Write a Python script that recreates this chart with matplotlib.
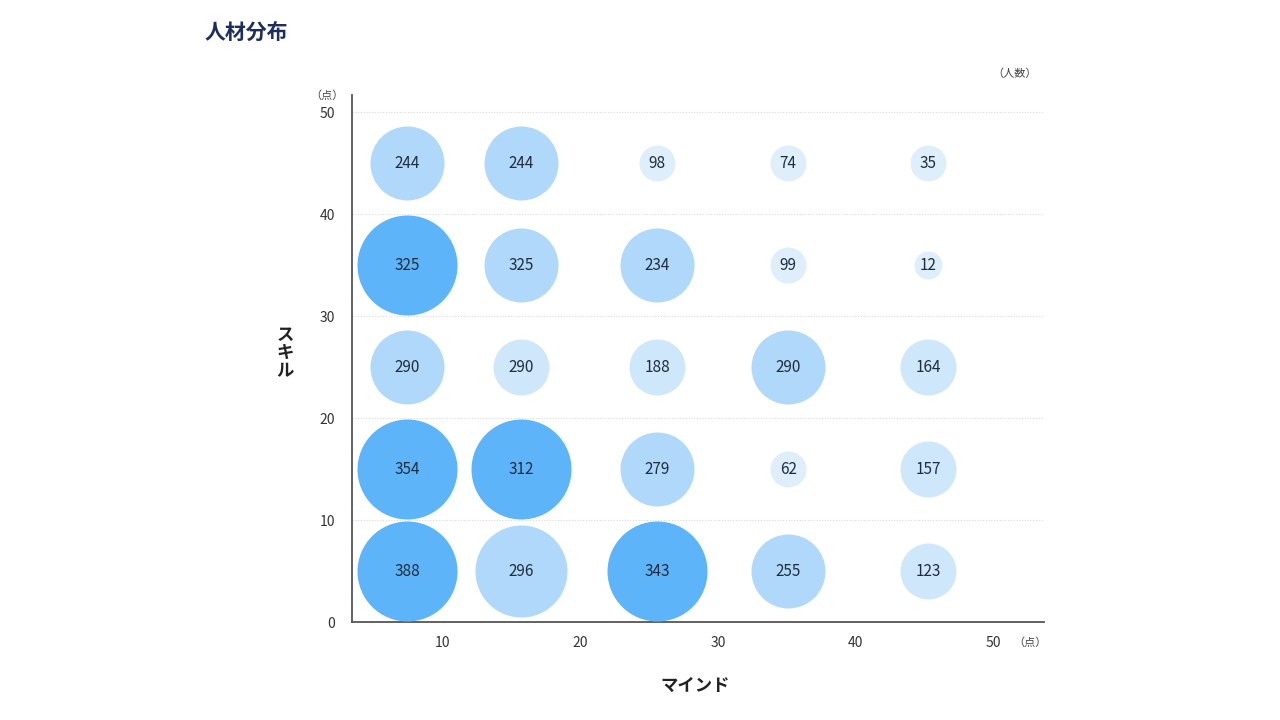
import matplotlib.pyplot as plt

plt.rcParams['font.family'] = ['Noto Sans CJK JP', 'DejaVu Sans']

# bubble grid: mind (x) columns, skill (y) rows
mind = [7.4, 15.7, 25.6, 35.1, 45.3]
skill = [5, 15, 25, 35, 45]

# head counts, one row per skill band (bottom to top)
counts = [
    [388, 296, 343, 255, 123],
    [354, 312, 279, 62, 157],
    [290, 290, 188, 290, 164],
    [325, 325, 234, 99, 12],
    [244, 244, 98, 74, 35],
]

# size class shown in the chart for each bubble
tiers = [
    [1, 2, 1, 3, 4],
    [1, 1, 3, 5, 4],
    [3, 4, 4, 3, 4],
    [1, 3, 3, 5, 6],
    [3, 3, 5, 5, 5],
]

x_ticks = [10, 20, 30, 40, 50]
y_ticks = [0, 10, 20, 30, 40, 50]

# radius in pixels and colour for each tier
tier_style = {
    1: (50, '#5eb4f8'),
    2: (46, '#afd8fa'),
    3: (37, '#afd8fa'),
    4: (28, '#cfe7fb'),
    5: (18, '#dfeefb'),
    6: (14, '#dfeefb'),
}

fig = plt.figure(figsize=(12.8, 7.2), dpi=100)
ax = fig.add_axes([352 / 1280, 1 - 622 / 720, (1044 - 352) / 1280, (622 - 95) / 720])
ax.set_xlim(3.4, 53.7)
ax.set_ylim(0, 51.7)

px_to_pt = 72 / fig.dpi
for i, y in enumerate(skill):
    for j, x in enumerate(mind):
        r, col = tier_style[tiers[i][j]]
        ax.scatter(x, y, s=(2 * r * px_to_pt) ** 2, color=col, linewidths=0, zorder=3)
        ax.text(x, y, str(counts[i][j]), ha='center', va='center',
                fontsize=11, color='#1f2d3d', zorder=4)

for y in y_ticks[1:]:
    ax.axhline(y, color='#d9d9d9', linestyle=(0, (1, 1.5)), linewidth=0.8, zorder=1)

for side in ['top', 'right']:
    ax.spines[side].set_visible(False)
for side in ['left', 'bottom']:
    ax.spines[side].set_color('#555555')
    ax.spines[side].set_linewidth(1.3)

ax.set_xticks(x_ticks)
ax.set_yticks(y_ticks)
ax.tick_params(axis='both', length=0, labelsize=10, colors='#333333')
ax.tick_params(axis='x', pad=10)
ax.tick_params(axis='y', pad=12)

fig.text(205 / 1280, 1 - 32 / 720, '人材分布', fontsize=15, fontweight='bold',
         color='#1c2f5c', va='center', ha='left')
fig.text(1015 / 1280, 1 - 74 / 720, '（人数）', fontsize=8, color='#444444',
         va='center', ha='center')
fig.text(327 / 1280, 1 - 96 / 720, '（点）', fontsize=8, color='#444444',
         va='center', ha='center')
fig.text(1030 / 1280, 1 - 643 / 720, '（点）', fontsize=8, color='#444444',
         va='center', ha='center')
fig.text(695 / 1280, 1 - 686 / 720, 'マインド', fontsize=12.5, fontweight='bold',
         color='#222222', va='center', ha='center')
fig.text(285 / 1280, 1 - 353 / 720, 'ス\nキ\nル', fontsize=12.5, fontweight='bold',
         color='#222222', va='center', ha='center', linespacing=1.0)

fig.savefig('out.png', dpi=100, facecolor='white')
